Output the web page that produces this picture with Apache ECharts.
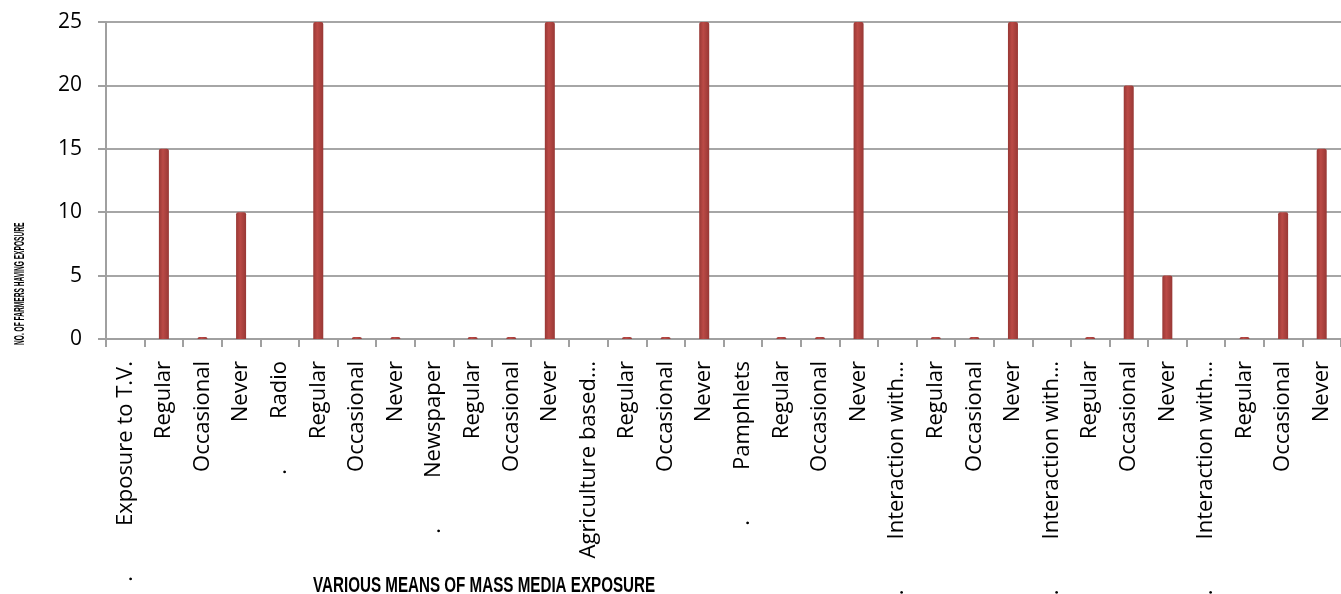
<!DOCTYPE html>
<html>
<head>
<meta charset="utf-8">
<script src="https://cdn.jsdelivr.net/npm/echarts@6/dist/echarts.min.js"></script>
<style>
  html, body { margin: 0; padding: 0; background: #fff; }
  #chartBox { width: 1341px; height: 594px; }
</style>
</head>
<body>
<div id="chartBox"></div>
<script>
// categories as they appear on the x axis (group heading followed by its levels)
var categories = [
  "Exposure to T.V.", "Regular", "Occasional", "Never",
  "Radio", "Regular", "Occasional", "Never",
  "Newspaper", "Regular", "Occasional", "Never",
  "Agriculture based…", "Regular", "Occasional", "Never",
  "Pamphlets", "Regular", "Occasional", "Never",
  "Interaction with…", "Regular", "Occasional", "Never",
  "Interaction with…", "Regular", "Occasional", "Never",
  "Interaction with…", "Regular", "Occasional", "Never"
];
// headings that carry the little leading "." in the original
var dottedHeads = ["Exposure to T.V.", "Radio", "Newspaper", "Pamphlets", "Interaction with…"];
// no. of farmers (heading rows have no value)
var farmers = [
  null, 15, 0, 10,
  null, 25, 0, 0,
  null, 0, 0, 25,
  null, 0, 0, 25,
  null, 0, 0, 25,
  null, 0, 0, 25,
  null, 0, 20, 5,
  null, 0, 10, 15
];
var yTicks = [0, 5, 10, 15, 20, 25];

var chartDom = document.getElementById("chartBox");
var myChart = echarts.init(chartDom);

function drawChart() {
  return {
    animation: false,
    grid: {
      left: 106,
      right: 0,
      top: 22,
      bottom: 255,
      containLabel: false,
      outerBoundsMode: "none",
    },
    graphic: [
      {
        // condensed axis titles, squeezed along the text like the original
        type: "text",
        x: 12,
        y: 345,
        rotation: Math.PI / 2,
        scaleX: 0.44,
        style: {
          text: "NO. OF FARMERS HAVING EXPOSURE",
          fontFamily: "Liberation Sans",
          fontWeight: "bold",
          fontSize: 15,
          fill: "#000",
          verticalAlign: "top",
        },
      },
      {
        type: "text",
        x: 313,
        y: 575,
        scaleX: 0.69,
        style: {
          text: "VARIOUS MEANS OF MASS MEDIA EXPOSURE",
          fontFamily: "Liberation Sans",
          fontWeight: "bold",
          fontSize: 22,
          fill: "#000",
        },
      },
    ],
    xAxis: {
      type: "category",
      data: categories,
      axisLine: {
        lineStyle: { color: "#a0a0a0", width: 2 },
      },
      axisTick: {
        show: true,
        interval: 0,
        length: 8,
        lineStyle: { color: "#a0a0a0", width: 2 },
      },
      axisLabel: {
        interval: 0,
        rotate: 90,
        margin: 22,
        color: "#000",
        fontFamily: "Open Sans",
        fontSize: 22,
        formatter: function (value) {
          if (dottedHeads.indexOf(value) >= 0) {
            return "{d|.}{t|" + value + "}";
          }
          return value;
        },
        rich: {
          d: {
            fontFamily: "Open Sans",
            fontSize: 22,
            color: "#000",
            padding: [0, 50, 0, 0],
          },
          t: {
            fontFamily: "Open Sans",
            fontSize: 22,
            color: "#000",
          },
        },
      },
    },
    yAxis: {
      type: "value",
      min: yTicks[0],
      max: yTicks[yTicks.length - 1],
      interval: yTicks[1] - yTicks[0],
      axisLine: {
        show: true,
        lineStyle: { color: "#a0a0a0", width: 2 },
      },
      axisTick: {
        show: true,
        length: 8,
        lineStyle: { color: "#a0a0a0", width: 2 },
      },
      axisLabel: {
        color: "#000",
        fontFamily: "Open Sans",
        fontSize: 21,
        margin: 24,
        padding: [9, 0, 0, 0],
      },
      splitLine: {
        lineStyle: { color: "#a6a6a6", width: 2 },
      },
    },
    series: [
      {
        name: "No. of farmers",
        type: "bar",
        data: farmers,
        barWidth: 10,
        barMinHeight: 2,
        itemStyle: {
          borderRadius: [2, 2, 0, 0],
          color: new echarts.graphic.LinearGradient(0, 0, 1, 0, [
            { offset: 0, color: "#983835" },
            { offset: 0.4, color: "#bb4a46" },
            { offset: 1, color: "#983835" },
          ]),
        },
      },
    ],
  };
}

myChart.setOption(drawChart());
</script>
</body>
</html>
